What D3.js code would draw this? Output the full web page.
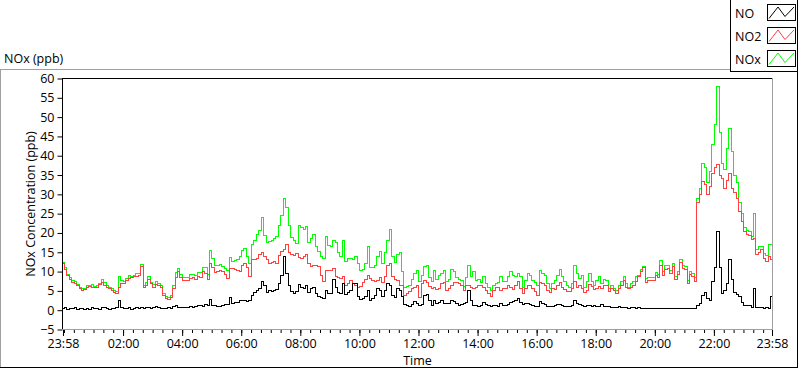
<!DOCTYPE html>
<html><head><meta charset="utf-8">
<script src="https://cdn.jsdelivr.net/npm/d3@7"></script>
<style>
html,body{margin:0;padding:0;background:#fff;}
svg{display:block;font-family:"Open Sans",sans-serif;}
</style></head><body>
<svg id="c" width="800" height="369"></svg>
<script>
// ---- data ----
const startTime = "23:58";
const sampleMinutes = 5;
const xTickLabels = ["23:58","02:00","04:00","06:00","08:00","10:00","12:00","14:00","16:00","18:00","20:00","22:00","23:58"];
const yTickValues = [-5,0,5,10,15,20,25,30,35,40,45,50,55,60];
const seriesNames = ["NO","NO2","NOx"];

const NO = [
0.4,0.6,0.3,0.5,0.4,0.7,0.3,0.5,0.4,0.2,0.5,0.3,0.6,0.4,0.5,0.3,0.6,0.7,0.4,0.3,0.5,0.4,0.6,2.5,0.8,0.5,0.4,0.6,0.3,0.5,0.7,0.5,0.6,0.4,0.6,0.8,0.5,0.7,0.9,0.6,0.5,0.4,0.5,0.6,0.5,1.0,1.2,0.8,0.7,0.6,0.8,0.7,0.9,0.8,1.0,1.1,1.3,1.0,1.5,1.2,2.8,
1.3,1.2,1.0,1.0,1.1,1.4,1.6,3.2,1.8,1.9,2.0,2.4,2.6,2.5,2.2,2.6,3.8,4.5,5,5.6,7.5,6.5,4.6,5.2,4.9,5.1,5.3,7,9,14,9.5,6.5,4.8,4.2,4.8,6.6,5.8,5.5,6.5,4.5,5.5,6,4.2,3.6,3.2,3,5.2,4.4,4.2,8,6,4.5,4.2,6.9,4,4.5,5,6.8,7,3.5,
2.7,2.9,3.5,5.2,2.4,3,3.8,5.6,5,3.5,5.2,6.9,6.5,3.9,3.4,5.5,5,3.5,1.4,1.3,1.0,1.6,2.2,1.8,1.3,1.5,3.9,4.1,2.5,1.1,2.6,1.8,2,2.6,1.8,1.8,1.7,2.6,2.2,1.7,1.3,1.4,1.7,2,5,2.6,1.3,1.2,0.9,1.3,2.1,1.5,1.3,0.9,1.2,1.1,1.0,1.7,1.3,1.2,
1.6,1.9,2.2,2.6,3,2,1.4,1.7,1.8,1.6,1.2,1.0,1.0,2.2,1.7,1.5,1.0,0.9,1.0,1.3,1.5,1.6,1.3,1.0,1.0,1.0,1.3,2.5,1.7,1.5,1.1,1.0,1.1,1.3,1.0,1.1,1.0,1.0,1.5,0.9,0.9,0.9,0.7,0.7,0.8,0.9,0.7,0.7,0.6,0.5,0.7,0.6,0.5,0.6,0.5,0.5,0.4,0.5,0.4,0.4,
0.4,0.4,0.5,0.4,0.5,0.4,0.4,0.5,0.4,0.5,0.4,0.4,0.5,0.4,0.4,0.5,0.4,1.3,1.8,3.9,4.5,3,2.5,7.5,11,20.5,11,4.2,5.2,7,13,8,4.5,4,3.5,2,1.1,1.2,1.1,0.8,5.5,0.7,0.8,0.6,0.5,0.6,0.5,3.5
];
const NO2 = [
12,10.5,9,8,7.3,6.8,6.3,5.5,5.2,5.4,5.8,6.2,6.0,5.8,6.0,6.6,7.3,6.5,5.9,5.5,5.0,4.6,4.2,6.0,6.8,7.0,7.8,8.3,8.5,8.6,8.7,9.0,11.2,6.0,6.5,8.0,6.8,6.0,6.6,6.3,5.8,3.8,3.0,2.7,3.2,5.5,8.5,10.0,8.5,7.8,7.6,7.8,8.3,8.5,8.0,8.7,8.5,10,9.5,8.0,12,
11,9.8,10,10.3,10,9.3,8.3,10.8,10.8,10.6,10.3,10,11.5,12,11,8.6,13,13.2,13.5,14.3,15,14,13,12.2,12.4,12.5,12,14.2,15.2,15.6,17,15,14.3,14.2,14.7,13.6,13.4,13.8,14.3,12,11.2,11.5,11.7,11.3,9,7.5,10.4,10.2,10.4,10.8,8.8,8.5,8.2,8.6,6.3,7,7.8,7,6.5,6,
6.2,7.2,8,9,8.2,7.8,7.4,7.8,8.5,7.2,8.6,11.7,12,8.8,8,7.8,6.5,6.5,3.9,4.3,4.8,5.5,6,6.3,3.2,6.9,7.8,7.3,6.2,5.5,6,5.4,5.6,6.9,7.3,5,5.5,6.4,7.3,7.2,6.8,6.4,5.2,6.5,6.5,6,5.6,6,6.5,6.5,6,5,4.3,3.5,5.2,6,6,5.2,5.6,5.6,
6.4,6,5.4,6.5,7.5,5.5,4.3,5.6,6.5,6.5,5.6,4.8,3.9,7.3,6.9,6.5,5,4.5,5.6,5.4,6.5,7.2,6,5.4,4.9,4.8,5.6,7.5,6,6.5,5.6,4.5,5.2,6.6,6.2,5.4,5.6,6.2,5.6,6.3,6.5,4.8,5.6,5.2,4.3,5.6,6.4,7.8,6,5.6,6,6.5,7.5,8.6,10,11,7.3,7.8,7.8,7.8,
9,8.5,11.5,9,10.5,10.8,9.5,11.2,8,9.3,12.3,10.8,10.5,7,9.3,8.7,7.5,28,30,33.3,32.5,30,32,35.5,37,37.6,35,34,31.5,33.5,35.4,31.5,30.5,29,25.5,23,20.3,19.7,19.4,18.2,18.6,14.5,15,15.6,13.4,12.5,13.8,13
];
const NOx = [
12.4,11.1,9.3,8.5,7.7,7.5,6.6,6.0,5.6,5.6,6.3,6.5,6.6,6.2,6.5,6.9,7.9,7.2,6.3,5.8,5.5,5.0,4.8,8.8,7.6,7.5,8.2,8.9,8.8,9.1,9.4,9.5,11.8,6.4,7.1,8.8,7.3,6.7,7.5,6.9,6.3,4.2,3.5,3.3,3.7,6.5,9.7,10.8,9.2,8.4,8.4,8.5,9.2,9.3,9.0,9.8,9.8,11.0,11.0,9.2,15.4,
13.5,11.5,11.5,11.8,11.2,10.9,10.3,13.6,12.7,12.9,13,13.8,15.5,16,14,12.1,17,18,19.5,20.7,24,19.4,17.5,17.7,18,18.5,19,22,24.5,28.8,26.5,22,18.8,18,17.3,22,21.5,21,21.6,17.5,18.5,19.5,16.5,15.3,14,13.5,19,16.8,16.4,18.1,17.5,15,14,18,12.5,13.5,13.5,13,14,12,
10.3,10.5,12,16.4,11,11,11.5,13.8,15.2,12,15,18.1,21,14,12.3,14.5,15,10,6,6.1,6.5,8,9.5,10.2,7.5,9,11.2,11.5,8.5,7.5,10.4,8,9,9.5,10.4,7.5,8,10.5,10,8.5,8,7.8,6.2,8.5,11.5,8.6,10,7.8,7.9,7.2,8.6,7,6,5.2,6.5,7,7.3,8.6,7.5,7.5,
8.8,10,9,8.6,9.5,8.6,6,7.8,9.5,9,7.8,7.3,6.5,10.2,9.5,9,7,5.6,6.9,7.6,9,10.6,8.6,7.5,6.5,5.8,6.9,11.5,9.5,8.2,9,6,7.5,9.6,7.5,6.5,7.8,8.6,7,8,7.6,5.6,6.3,5.6,5.2,6.5,7.5,8.6,6.8,6,6.8,7.4,8.6,9,10.6,11.4,8.2,8.4,8.4,8.5,
9.8,9.3,12.8,10,11.5,11.6,10.4,12,8.8,10.1,13.2,11.6,11.4,7.8,10,9.4,8.4,29,31.5,38,37,33,36,43,48,58,46,38,36.5,42,47,41,35,33,28,25,21.5,20.7,20.3,19,25,15.6,16.6,16.4,14.6,14.2,16.9,17
];

// ---- chart ----
const svg = d3.select("#c");
const plot = {left: 62, top: 78, right: 773, bottom: 330};
const toMin = s => { const [h, m] = s.split(":").map(Number); return h * 60 + m; };
const start = toMin(startTime);
const totalMin = 1440;
const rel = s => (toMin(s) - start + 1440) % 1440;

const x = d3.scaleLinear().domain([0, totalMin]).range([63, 772]);
const y = d3.scaleLinear().domain([-5, 60]).range([329.5, 78.5]);

const txt = "#000";
const FS = 12.5;

// outer frame
svg.append("line").attr("x1",0).attr("x2",730).attr("y1",69.5).attr("y2",69.5).attr("stroke","#a0a0a0");
svg.append("line").attr("x1",0.5).attr("x2",0.5).attr("y1",69).attr("y2",368).attr("stroke","#a0a0a0");
svg.append("line").attr("x1",0).attr("x2",798).attr("y1",367.5).attr("y2",367.5).attr("stroke","#000");
svg.append("line").attr("x1",797.5).attr("x2",797.5).attr("y1",0).attr("y2",368).attr("stroke","#000");

// title
svg.append("text").attr("x",4).attr("y",63).attr("font-size",FS).attr("fill",txt).text("NOx (ppb)");

// plot area clip
svg.append("clipPath").attr("id","pc").append("rect")
  .attr("x",plot.left).attr("y",plot.top).attr("width",plot.right-plot.left).attr("height",plot.bottom-plot.top);

// y axis
const yAxis = d3.axisLeft(y).tickValues(yTickValues).tickSize(5).tickPadding(3).tickFormat(d3.format("d"));
const ya = svg.append("g").attr("transform",`translate(${plot.left+0.5},0)`).call(yAxis);
ya.select(".domain").remove();
ya.selectAll("text").attr("font-size",FS).attr("font-family","Open Sans").attr("fill",txt);
ya.selectAll("line").attr("stroke","#000");

// x axis
const majorVals = xTickLabels.map((s,i) => i === xTickLabels.length-1 ? totalMin : rel(s));
const minorVals = d3.range(0, totalMin+1).filter(t => ((t + start) % 20) === 0);
const xMinor = d3.axisBottom(x).tickValues(minorVals).tickSize(3).tickFormat("");
const xm = svg.append("g").attr("transform",`translate(0,${plot.bottom})`).call(xMinor);
xm.select(".domain").remove();
xm.selectAll("line").attr("stroke","#000");
const xMajor = d3.axisBottom(x).tickValues(majorVals).tickSize(6).tickPadding(3)
  .tickFormat((d,i) => xTickLabels[i]);
const xa = svg.append("g").attr("transform",`translate(0,${plot.bottom})`).call(xMajor);
xa.select(".domain").remove();
xa.selectAll("text").attr("font-size",FS).attr("font-family","Open Sans").attr("fill",txt);
xa.selectAll("line").attr("stroke","#000");

// axis titles
svg.append("text").attr("x",(plot.left+plot.right)/2).attr("y",365).attr("text-anchor","middle")
  .attr("font-size",FS).attr("fill",txt).text("Time");
svg.append("text").attr("transform",`translate(35,${(plot.top+plot.bottom)/2}) rotate(-90)`)
  .attr("text-anchor","middle").attr("font-size",FS).attr("fill",txt).text("NOx Concentration (ppb)");

// series
const colors = {NO:"#000000", NO2:"#ff4040", NOx:"#00ff00"};
const data = {NO, NO2, NOx};
const line = d3.line().x((d,i) => x(i*sampleMinutes)).y(d => y(d)).curve(d3.curveStep);
const g = svg.append("g").attr("clip-path","url(#pc)");
["NOx","NO2","NO"].forEach(k => {
  g.append("path").datum(data[k]).attr("d", line).attr("fill","none")
   .attr("stroke", colors[k]).attr("stroke-width",1).attr("shape-rendering","crispEdges");
});

// plot border
svg.append("line").attr("x1",plot.left).attr("x2",plot.right).attr("y1",plot.top+0.5).attr("y2",plot.top+0.5).attr("stroke","#000");
svg.append("line").attr("x1",plot.left+0.5).attr("x2",plot.left+0.5).attr("y1",plot.top).attr("y2",plot.bottom).attr("stroke","#000");
svg.append("line").attr("x1",plot.right-0.5).attr("x2",plot.right-0.5).attr("y1",plot.top).attr("y2",plot.bottom).attr("stroke","#a0a0a0");
svg.append("line").attr("x1",plot.left).attr("x2",plot.right).attr("y1",plot.bottom-0.5).attr("y2",plot.bottom-0.5).attr("stroke","#a0a0a0");

// legend
svg.append("rect").attr("x",730.5).attr("y",-1).attr("width",67).attr("height",72.5)
  .attr("fill","#fff").attr("stroke","#000");
seriesNames.forEach((n,i) => {
  const top = 4 + 23*i;
  svg.append("text").attr("x",735).attr("y",top+14).attr("font-size",FS).attr("fill",txt).text(n);
  svg.append("rect").attr("x",767.5).attr("y",top+0.5).attr("width",28).attr("height",16)
    .attr("fill","#fff").attr("stroke","#000");
  const pts = [[769,top+14.5],[778,top+3],[785,top+12.5],[794,top+3]];
  svg.append("path").attr("d", d3.line()(pts)).attr("fill","none").attr("stroke",colors[n]).attr("stroke-width",1);
});
</script>
</body></html>
